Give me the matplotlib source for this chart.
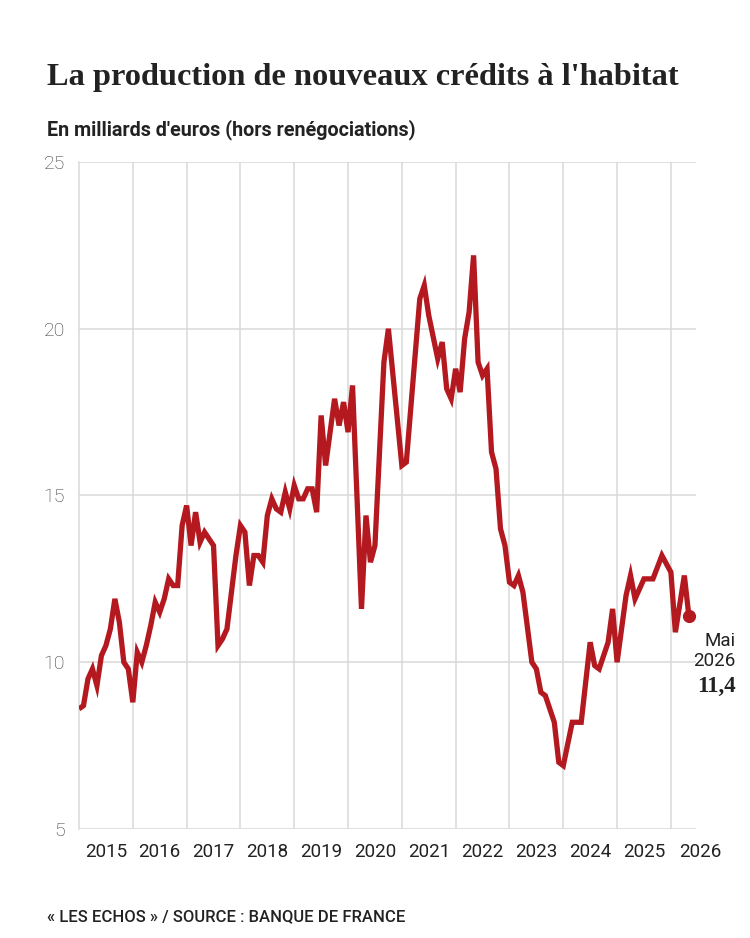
import matplotlib
matplotlib.use("Agg")
import matplotlib.pyplot as plt

# months since January 2015 (vertices of the line) and values in billions of euros
months = [0, 1, 2, 3, 4, 5, 6, 7, 8, 9, 10, 11,
          12, 13, 14, 15, 16, 17, 18, 19, 20, 21, 22, 23,
          24, 25, 26, 27, 28, 30, 31, 32, 33, 35,
          36, 37, 38, 39, 40, 41, 42, 43, 44, 45, 46, 47,
          48, 49, 50, 51, 52, 53, 54, 55, 57, 58, 59,
          60, 61, 63, 64, 65, 66, 68, 69,
          72, 73, 76, 77, 78, 80, 81, 82, 83,
          84, 85, 86, 87, 88, 89, 90, 91, 92, 93, 94, 95,
          96, 97, 98, 99, 101, 102, 103, 104, 106, 107,
          108, 110, 112, 114, 115, 116, 118, 119,
          120, 122, 123, 124, 126, 128, 130,
          132, 133, 135, 136]
values = [8.6, 8.7, 9.5, 9.8, 9.3, 10.2, 10.5, 11.0, 11.9, 11.2, 10.0, 9.8,
          8.8, 10.3, 10.0, 10.5, 11.1, 11.8, 11.5, 11.9, 12.5, 12.3, 12.3, 14.1,
          14.7, 13.5, 14.5, 13.6, 13.9, 13.5, 10.5, 10.7, 11.0, 13.2,
          14.1, 13.9, 12.3, 13.2, 13.2, 13.0, 14.4, 14.9, 14.6, 14.5, 15.1, 14.6,
          15.3, 14.9, 14.9, 15.2, 15.2, 14.5, 17.4, 15.9, 17.9, 17.1, 17.8,
          16.9, 18.3, 11.6, 14.4, 13.0, 13.5, 19.0, 20.0,
          15.9, 16.0, 20.9, 21.3, 20.4, 19.1, 19.6, 18.2, 17.9,
          18.8, 18.1, 19.7, 20.5, 22.2, 19.0, 18.6, 18.8, 16.3, 15.8, 14.0, 13.5,
          12.4, 12.3, 12.6, 12.1, 10.0, 9.8, 9.1, 9.0, 8.2, 7.0,
          6.9, 8.2, 8.2, 10.6, 9.9, 9.8, 10.6, 11.6,
          10.0, 12.0, 12.6, 11.9, 12.5, 12.5, 13.2,
          12.7, 10.9, 12.6, 11.4]

years = ["2015", "2016", "2017", "2018", "2019", "2020",
         "2021", "2022", "2023", "2024", "2025", "2026"]
y_ticks = [5, 10, 15, 20, 25]
last_month = "Mai\n2026"
last_value = "11,4"

red = "#b3191f"
grid = "#d9d9d9"
ink = "#222222"
sans = ["Roboto", "DejaVu Sans"]
serif = ["Liberation Serif", "DejaVu Serif"]

fig = plt.figure(figsize=(7.5, 9.38), dpi=100)
ax = fig.add_axes([79 / 750, 109 / 938, 617 / 750, 667 / 938])

xmax = 137.6
ax.set_xlim(0, xmax)
ax.set_ylim(5, 25)

# year gridlines at each January
ax.set_xticks([12 * i for i in range(1, len(years))])
ax.set_xticklabels([])
ax.set_yticks(y_ticks)
ax.set_yticklabels([str(t) for t in y_ticks], fontsize=14, color="#3a3a3a",
                   family=sans, fontweight="light")
ax.tick_params(length=0, pad=10)
ax.grid(True, color=grid, linewidth=1.1)
ax.set_axisbelow(True)
for s in ["top", "right", "bottom"]:
    ax.spines[s].set_visible(False)
ax.spines["left"].set_color(grid)
ax.spines["left"].set_linewidth(1.1)

ax.plot(months, values, color=red, linewidth=3.8, solid_joinstyle="miter",
        solid_capstyle="butt", zorder=3)
ax.plot(months[-1], values[-1], "o", color=red, markersize=8.5, zorder=4)

# year labels in the middle of each year, the last one past the end
for i, y in enumerate(years):
    x = 12 * i + 6 if i < len(years) - 1 else xmax + 1
    ax.annotate(y, xy=(x, 0), xycoords=("data", "axes fraction"),
                xytext=(0, -23), textcoords="offset pixels",
                ha="center", va="center", fontsize=13.5, color=ink,
                family=sans)

# end annotation
fig.text(736 / 750, 1 - 651 / 938, last_month, ha="right", va="center",
         fontsize=13.5, color=ink, family=sans, linespacing=1.1)
fig.text(736 / 750, 1 - 686 / 938, last_value, ha="right", va="center",
         fontsize=16.5, fontweight="bold", color=ink, family=serif)

fig.text(47 / 750, 1 - 85 / 938, "La production de nouveaux crédits à l'habitat",
         ha="left", va="baseline", fontsize=23.3, fontweight="bold",
         color=ink, family=serif)
fig.text(47 / 750, 1 - 135 / 938, "En milliards d'euros (hors renégociations)",
         ha="left", va="baseline", fontsize=14.2, fontweight="bold",
         color=ink, family=sans)
fig.text(47 / 750, 1 - 921 / 938, "« LES ECHOS » / SOURCE : BANQUE DE FRANCE",
         ha="left", va="baseline", fontsize=12, fontweight="medium",
         color=ink, family=sans)

fig.savefig("out.png", dpi=100, facecolor="white")
